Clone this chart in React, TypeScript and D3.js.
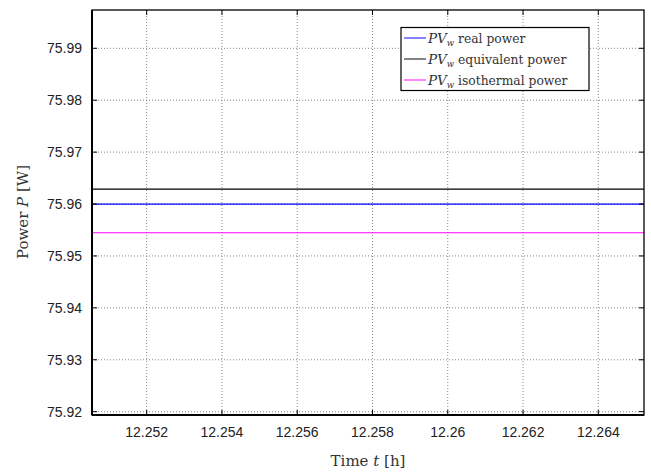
import React from "react";
import * as d3 from "d3";

const xTicks = [12.252, 12.254, 12.256, 12.258, 12.26, 12.262, 12.264];
const yTicks = [75.92, 75.93, 75.94, 75.95, 75.96, 75.97, 75.98, 75.99];
const xDomain = [12.250547, 12.265214];
const yDomain = [75.91936, 75.99738];
const seriesNames = ["real power", "equivalent power", "isothermal power"];
const seriesColors = ["#0000ff", "#000000", "#ff00ff"];
const timeValues = [12.250547, 12.265214];
const realPower = [75.96, 75.96];
const equivalentPower = [75.96289, 75.96289];
const isothermalPower = [75.95447, 75.95447];

export default function App() {
  const W = 651, H = 472;
  const L = 92, R = 644, T = 10, B = 415;
  const x = d3.scaleLinear().domain(xDomain).range([L, R]);
  const y = d3.scaleLinear().domain(yDomain).range([B, T]);
  const series = [realPower, equivalentPower, isothermalPower];
  const line = d3.line<[number, number]>().x((d) => x(d[0])).y((d) => y(d[1]));
  const order = [1, 0, 2];
  const xFmt = (v: number) => d3.format("")(+v.toFixed(3));
  return (
    <svg width={W} height={H} style={{ position: "absolute", left: 0, top: 0 }}>
      <rect x={0} y={0} width={W} height={H} fill="#fff" />
      {xTicks.map((t) => (
        <line key={"gx" + t} x1={x(t)} x2={x(t)} y1={T} y2={B} stroke="#888" strokeWidth={1} strokeDasharray="1,2" />
      ))}
      {yTicks.map((t) => (
        <line key={"gy" + t} x1={L} x2={R} y1={y(t)} y2={y(t)} stroke="#888" strokeWidth={1} strokeDasharray="1,2" />
      ))}
      {order.map((i) => (
        <path key={"s" + i} d={line(timeValues.map((t, k) => [t, series[i][k]]) as [number, number][]) || ""} stroke={seriesColors[i]} strokeWidth={1.2} fill="none" />
      ))}
      {xTicks.map((t) => (
        <g key={"tx" + t}>
          <line x1={x(t)} x2={x(t)} y1={B} y2={B - 5} stroke="#000" />
          <line x1={x(t)} x2={x(t)} y1={T} y2={T + 5} stroke="#000" />
          <text x={x(t)} y={437} textAnchor="middle" fontFamily="Liberation Sans, Arial, sans-serif" fontSize={14} fill="#222">
            {xFmt(t)}
          </text>
        </g>
      ))}
      {yTicks.map((t) => (
        <g key={"ty" + t}>
          <line x1={L} x2={L + 5} y1={y(t)} y2={y(t)} stroke="#000" />
          <line x1={R} x2={R - 5} y1={y(t)} y2={y(t)} stroke="#000" />
          <text x={82} y={y(t) + 5} textAnchor="end" fontFamily="Liberation Sans, Arial, sans-serif" fontSize={14} fill="#222">
            {t.toFixed(2)}
          </text>
        </g>
      ))}
      <rect x={L} y={T} width={R - L} height={B - T} fill="none" stroke="#000" strokeWidth={1.3} />
      <line x1={L} x2={L} y1={T} y2={B} stroke="#000" strokeWidth={2} />
      <line x1={L} x2={R} y1={B} y2={B} stroke="#000" strokeWidth={2} />
      <text x={368} y={466} textAnchor="middle" fontFamily="DejaVu Serif, serif" fontSize={15} fill="#333">
        Time <tspan fontStyle="italic">t</tspan> [h]
      </text>
      <text transform="translate(28,212) rotate(-90)" textAnchor="middle" fontFamily="DejaVu Serif, serif" fontSize={15} fill="#333">
        Power <tspan fontStyle="italic">P</tspan> [W]
      </text>
      <g>
        <rect x={401} y={27.5} width={188} height={63} fill="#fff" stroke="#000" strokeWidth={1.2} />
        {seriesNames.map((n, i) => (
          <g key={n} transform={`translate(0,${38 + i * 21})`}>
            <line x1={404} x2={426} y1={0} y2={0} stroke={seriesColors[i]} strokeWidth={1.2} opacity={0.8} />
            <text x={428} y={4.5} fontFamily="DejaVu Serif, serif" fontSize={12.3} fill="#333">
              <tspan fontStyle="italic" fontSize={13.5}>PV</tspan>
              <tspan fontStyle="italic" fontSize={8.5} dy={3}>w</tspan>
              <tspan dy={-3}> {n}</tspan>
            </text>
          </g>
        ))}
      </g>
    </svg>
  );
}
